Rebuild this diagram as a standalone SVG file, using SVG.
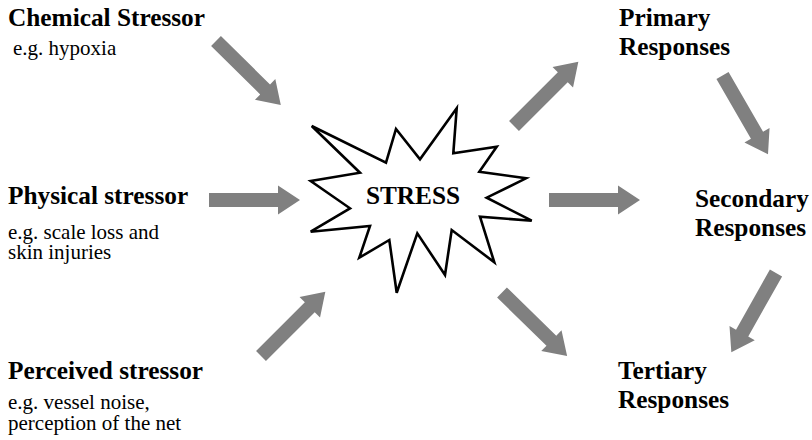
<svg xmlns="http://www.w3.org/2000/svg" xmlns:xlink="http://www.w3.org/1999/xlink" width="812" height="440" viewBox="0 0 812 440">
<style>
text{font-family:'Liberation Serif','Times New Roman',Tinos,'DejaVu Serif',serif;fill:#000}
.t{font-weight:bold;font-size:25.3px}
.s{font-size:21px}
.arr{fill:#808080}
.star{fill:#fff;stroke:#000;stroke-width:2.6;stroke-linejoin:miter}
</style>
<defs>
<path id="ar" class="arr" d="M0,-7 L69,-7 L69,-14.5 L91,0 L69,14.5 L69,7 L0,7 Z"/>
</defs>
<rect width="812" height="440" fill="#fff"/>
<g id="connectors">
<use xlink:href="#ar" transform="translate(216,41) rotate(44.6)"/>
<use xlink:href="#ar" transform="translate(209,200)"/>
<use xlink:href="#ar" transform="translate(261,356) rotate(-45)"/>
<use xlink:href="#ar" transform="translate(514,126) rotate(-45)"/>
<use xlink:href="#ar" transform="translate(549,200)"/>
<use xlink:href="#ar" transform="translate(502,292.5) rotate(44.3)"/>
<use xlink:href="#ar" transform="translate(722.5,75.5) rotate(60)"/>
<use xlink:href="#ar" transform="translate(776,273) rotate(119.4)"/>
</g>
<g id="stress">
<polygon class="star" points="311.7,126 386,162.7 396,129 420,159.3 456.7,108.3 453.3,153.3 496.7,146.7 479.3,171.7 526,178.3 486.7,197.7 531.7,220.7 480,216.7 494.3,262.3 451.7,230 445,275 417.3,233.3 396.7,292.7 389.3,240 359.3,257.7 370,226 310.7,231.7 350,208.3 310.7,181 360,172.7"/>
<text class="t" x="413" y="204" text-anchor="middle" font-family="Liberation Serif, serif">STRESS</text>
</g>
<g id="chemical">
<text class="t" x="8" y="26" font-family="Liberation Serif, serif">Chemical Stressor</text>
<text class="s" x="13" y="55" font-family="Liberation Serif, serif">e.g. hypoxia</text>
</g>
<g id="physical">
<text class="t" x="8" y="204" font-family="Liberation Serif, serif">Physical stressor</text>
<text class="s" x="8" y="239" font-family="Liberation Serif, serif">e.g. scale loss and</text>
<text class="s" x="8" y="259" font-family="Liberation Serif, serif">skin injuries</text>
</g>
<g id="perceived">
<text class="t" x="8" y="379" font-family="Liberation Serif, serif">Perceived stressor</text>
<text class="s" x="8" y="409" font-family="Liberation Serif, serif">e.g. vessel noise,</text>
<text class="s" x="8" y="430" font-family="Liberation Serif, serif">perception of the net</text>
</g>
<g id="primary">
<text class="t" x="619" y="26" font-family="Liberation Serif, serif">Primary</text>
<text class="t" x="619" y="55" font-family="Liberation Serif, serif">Responses</text>
</g>
<g id="secondary">
<text class="t" x="695" y="207" font-family="Liberation Serif, serif">Secondary</text>
<text class="t" x="695" y="236" font-family="Liberation Serif, serif">Responses</text>
</g>
<g id="tertiary">
<text class="t" x="618" y="379" font-family="Liberation Serif, serif">Tertiary</text>
<text class="t" x="618" y="408" font-family="Liberation Serif, serif">Responses</text>
</g>
</svg>
